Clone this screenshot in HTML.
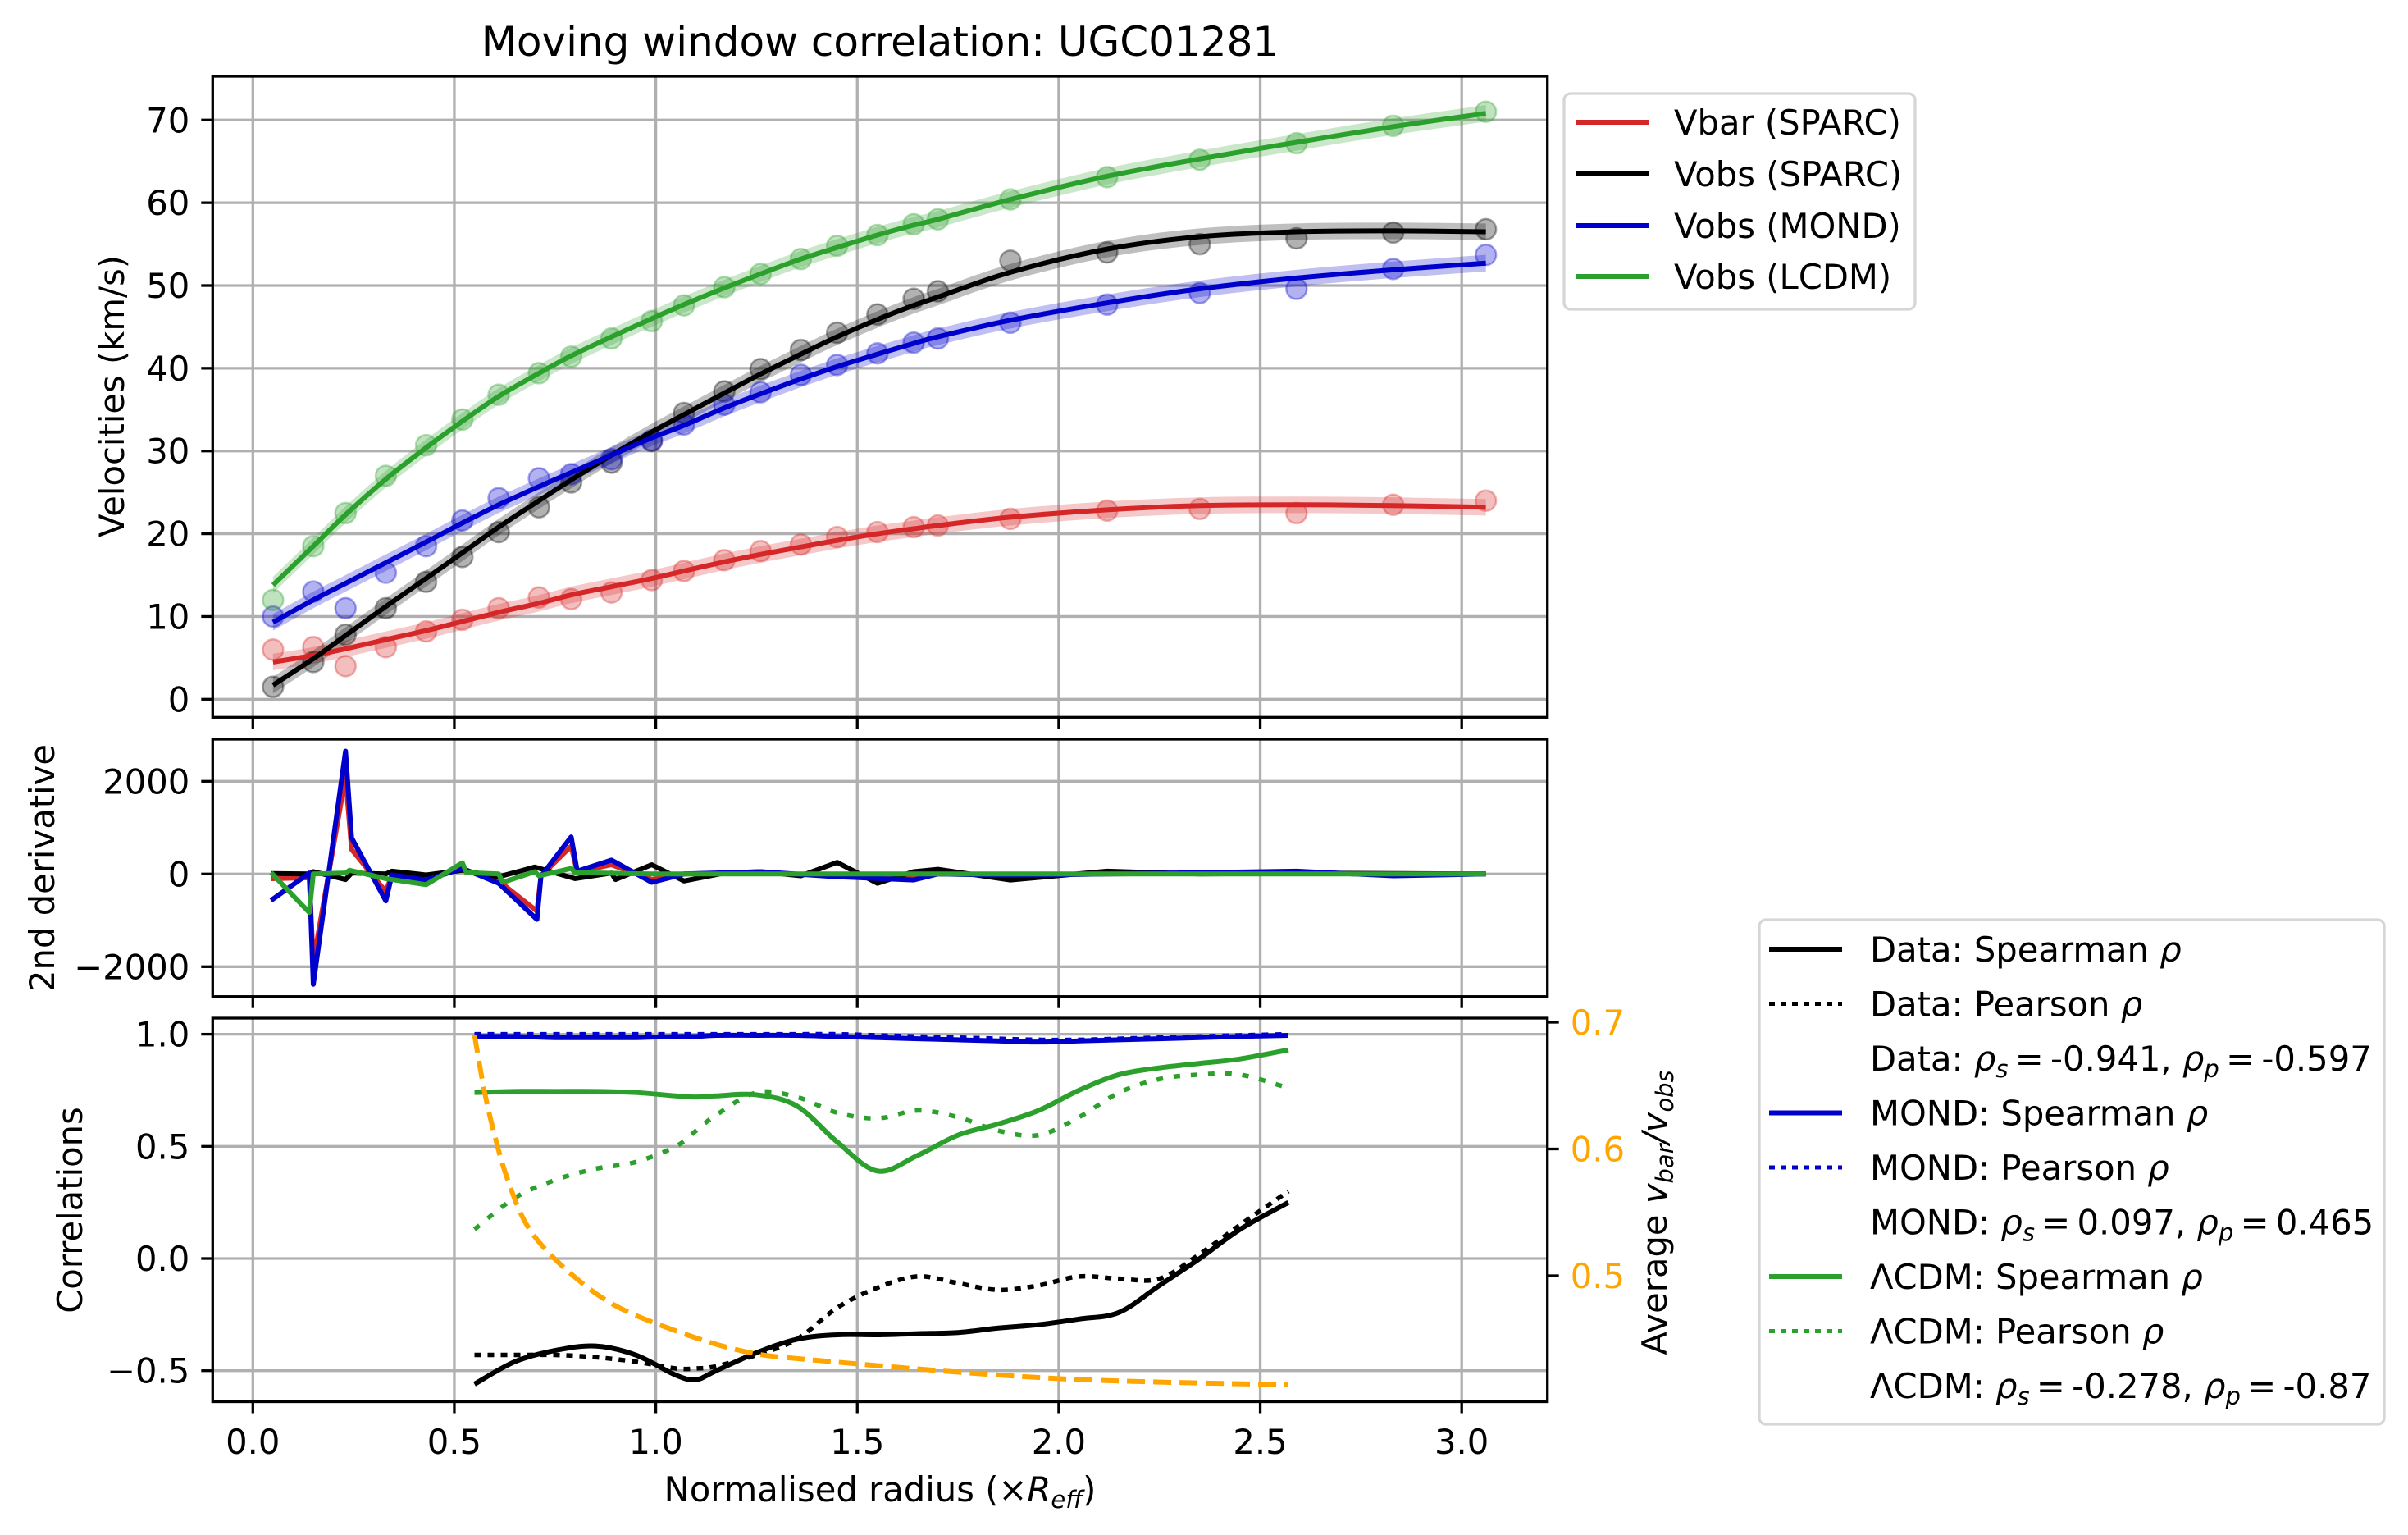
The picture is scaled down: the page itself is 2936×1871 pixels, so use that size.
<!DOCTYPE html>
<html><head><meta charset="utf-8"><style>
html,body{margin:0;padding:0;background:#fff;}
svg{display:block;font-family:"DejaVu Sans","Liberation Sans",sans-serif;}
</style></head><body>
<svg id="chart" xmlns="http://www.w3.org/2000/svg" width="2936" height="1871" viewBox="0 0 2936 1871">
<rect width="2936" height="1871" fill="#fff"/>
<g id="grids"></g>
<g id="marks"></g>
<g id="frames"></g>
<text x="1073" y="68" font-size="50" text-anchor="middle">Moving window correlation: UGC01281</text>
<text x="1073" y="1830" font-size="41.7" text-anchor="middle">Normalised radius (×<tspan font-style="italic">R</tspan><tspan font-style="italic" font-size="29" dy="8">eff</tspan><tspan dy="-8">)</tspan></text>
<text transform="translate(151,483) rotate(-90)" font-size="41.7" text-anchor="middle">Velocities (km/s)</text>
<text transform="translate(66,1058) rotate(-90)" font-size="41.7" text-anchor="middle">2nd derivative</text>
<text transform="translate(100,1475) rotate(-90)" font-size="41.7" text-anchor="middle">Correlations</text>
<text transform="translate(2032,1478) rotate(-90)" font-size="41.7" text-anchor="middle">Average <tspan font-style="italic">v</tspan><tspan font-style="italic" font-size="29" dy="8">bar</tspan><tspan font-style="italic" dy="-8">/v</tspan><tspan font-style="italic" font-size="29" dy="8">obs</tspan></text>
<g id="legend-top"></g>
<g id="legend-bottom"></g>
</svg>
<script>
// ---------- data ----------
const radii = [0.05,0.15,0.23,0.33,0.43,0.52,0.61,0.71,0.79,0.89,0.99,1.07,1.17,1.26,1.36,1.45,1.55,1.64,1.70,1.88,2.12,2.35,2.59,2.83,3.06];
const vbarPts = [6,6.3,4,6.3,8.2,9.6,11,12.3,12.1,12.9,14.4,15.5,16.8,17.9,18.7,19.6,20.2,20.8,21,21.8,22.8,23,22.5,23.5,24];
const vobsPts = [1.5,4.5,7.8,11,14.2,17.2,20.2,23.2,26.2,28.6,31.2,34.6,37.2,39.9,42.2,44.3,46.5,48.4,49.3,53,54,55,55.7,56.4,56.8];
const mondPts = [10,13,11,15.3,18.5,21.6,24.3,26.7,27.2,29,31.3,33.2,35.6,37.1,39.2,40.4,41.8,43.1,43.6,45.5,47.7,49.1,49.6,52,53.7];
const lcdmPts = [12,18.5,22.5,27,30.7,33.8,36.8,39.4,41.4,43.6,45.7,47.6,49.8,51.4,53.2,54.8,56.1,57.4,58,60.4,63.1,65.2,67.2,69.3,71];
const vbarFit = [4.5,5.3,6.1,7.2,8.3,9.4,10.5,11.6,12.6,13.6,14.6,15.5,16.6,17.5,18.4,19.2,20.0,20.6,21.0,22.0,22.9,23.4,23.5,23.4,23.2];
const vobsFit = [1.7,4.9,7.7,11.2,14.6,17.7,20.8,24.0,26.5,29.5,32.3,34.4,37.0,39.3,41.7,43.8,45.9,47.6,48.6,51.6,54.4,55.9,56.5,56.6,56.5];
const mondFit = [9.3,12.0,14.0,16.5,19.0,21.3,23.5,25.7,27.4,29.5,31.6,33.1,35.2,36.9,38.7,40.2,41.7,43.0,43.8,45.8,47.9,49.6,50.9,51.9,52.7];
const lcdmFit = [13.8,18.5,22.3,26.6,30.4,33.6,36.6,39.4,41.5,43.8,46.0,47.7,49.7,51.4,53.2,54.6,56.1,57.3,58.0,60.4,63.2,65.3,67.3,69.2,70.8];

const d2X = [0.045,0.14,0.15,0.23,0.245,0.33,0.345,0.43,0.52,0.61,0.705,0.715,0.79,0.805,0.89,0.99,1.07,1.26,1.45,1.64,1.70,1.88,2.12,2.59,2.83,3.06];
const d2Mond = [-570,20,-2380,2650,780,-580,-20,-130,120,-200,-980,-50,800,60,300,-180,0,50,-60,-130,0,-30,0,60,-40,0];
const d2Vbar = [-100,-80,-1900,2100,530,-380,-20,-80,100,-150,-800,-40,600,40,200,-120,0,30,-40,-80,0,-20,0,40,-20,0];
const d2ObsX = [0.045,0.14,0.15,0.23,0.245,0.33,0.345,0.43,0.52,0.61,0.70,0.80,0.89,0.90,0.99,1.07,1.17,1.26,1.36,1.45,1.55,1.64,1.70,1.88,2.12,2.35,2.59,3.06];
const d2Obs = [10,0,50,-120,20,0,60,-20,80,-60,150,-100,20,-120,200,-150,20,50,-40,250,-200,50,100,-130,60,0,20,0];
const d2LcdmX = [0.045,0.14,0.15,0.23,0.24,0.33,0.43,0.52,0.53,0.61,0.62,0.70,0.71,0.79,0.80,0.99,1.26,1.45,1.88,2.12,2.59,3.06];
const d2Lcdm = [30,-830,0,20,80,-100,-230,240,30,0,-180,50,-40,120,30,0,0,0,0,0,0,0];

const corrX = [0.55,0.65,0.75,0.85,0.95,1.05,1.10,1.15,1.25,1.35,1.45,1.55,1.65,1.75,1.85,1.95,2.05,2.15,2.25,2.35,2.45,2.57];
const dataSpearman = [-0.56,-0.46,-0.41,-0.39,-0.43,-0.52,-0.54,-0.50,-0.42,-0.36,-0.34,-0.34,-0.335,-0.33,-0.31,-0.295,-0.27,-0.24,-0.12,0.0,0.13,0.25];
const dataPearson = [-0.43,-0.43,-0.43,-0.44,-0.46,-0.49,-0.49,-0.48,-0.43,-0.36,-0.22,-0.13,-0.08,-0.11,-0.14,-0.12,-0.08,-0.09,-0.09,0.02,0.15,0.30];
const mondSpearman = [0.99,0.99,0.985,0.985,0.985,0.99,0.99,0.995,0.995,0.995,0.99,0.985,0.98,0.975,0.97,0.965,0.97,0.975,0.98,0.985,0.99,0.995];
const mondPearson = [1.0,1.0,1.0,1.0,1.0,1.0,1.0,1.0,1.0,1.0,1.0,0.995,0.99,0.985,0.98,0.975,0.975,0.98,0.985,0.99,0.995,1.0];
const lcdmSpearman = [0.74,0.745,0.745,0.745,0.74,0.725,0.72,0.725,0.73,0.68,0.52,0.39,0.46,0.55,0.60,0.66,0.75,0.82,0.85,0.87,0.89,0.93];
const lcdmPearson = [0.13,0.27,0.35,0.40,0.43,0.50,0.57,0.64,0.74,0.72,0.65,0.625,0.66,0.63,0.57,0.55,0.63,0.74,0.80,0.82,0.82,0.76];
const ratioX = [0.55,0.575,0.6,0.63,0.68,0.76,0.88,1.02,1.21,1.41,1.99,2.57];
const ratioAvg = [0.69,0.645,0.611,0.578,0.54,0.51,0.48,0.46,0.441,0.433,0.419,0.414];

const xTicks = [0.0,0.5,1.0,1.5,2.0,2.5,3.0];
const xTickLabels = ["0.0","0.5","1.0","1.5","2.0","2.5","3.0"];
const vTicks = [0,10,20,30,40,50,60,70];
const dTicks = [-2000,0,2000];
const dTickLabels = ["\u22122000","0","2000"];
const cTicks = [-0.5,0.0,0.5,1.0];
const cTickLabels = ["\u22120.5","0.0","0.5","1.0"];
const rTicks = [0.5,0.6,0.7];
const rTickLabels = ["0.5","0.6","0.7"];

// ---------- axes ----------
const L = 259.3, R = 1886.7;
const X = v => 308.3 + v * 491.3;
const YV = v => 852.3 - v * 10.086;
const YD = v => 1065.3 - v * 0.0565;
const YC = v => 1534 - v * 273.4;
const YR = v => 1555 - (v - 0.5) * 1545;
const panels = [{top:93,bot:874.3},{top:901,bot:1214.7},{top:1241,bot:1708.5}];
const NS = "http://www.w3.org/2000/svg";
function mk(tag, attrs, parent){const e=document.createElementNS(NS,tag);for(const k in attrs)e.setAttribute(k,attrs[k]);parent.appendChild(e);return e;}
const G = document.getElementById('grids'), M = document.getElementById('marks'), F = document.getElementById('frames');
const GRID = '#b0b0b0';

function smooth(xs, ys, fx, fy){
  const p = xs.map((x,i)=>[fx(x),fy(ys[i])]);
  let d = `M${p[0][0]},${p[0][1]}`;
  for(let i=0;i<p.length-1;i++){
    const p0=p[Math.max(0,i-1)],p1=p[i],p2=p[i+1],p3=p[Math.min(p.length-1,i+2)];
    const c1=[p1[0]+(p2[0]-p0[0])/6,p1[1]+(p2[1]-p0[1])/6];
    const c2=[p2[0]-(p3[0]-p1[0])/6,p2[1]-(p3[1]-p1[1])/6];
    d+=` C${c1[0]},${c1[1]} ${c2[0]},${c2[1]} ${p2[0]},${p2[1]}`;
  }
  return d;
}
function poly(xs, ys, fx, fy){return xs.map((x,i)=>`${fx(x)},${fy(ys[i])}`).join(' ');}

panels.forEach((p,pi)=>{
  xTicks.forEach(t=>{
    const g=mk('line',{x1:X(t),x2:X(t),y1:p.top,y2:p.bot,stroke:GRID,'stroke-width':3.3},G);
    
    
    const tk=mk('line',{x1:X(t),x2:X(t),y1:p.bot,y2:p.bot+14,stroke:'#000','stroke-width':3.3},F);
    
    
  });
});
function yAxis(ticks, labels, fy){
  ticks.forEach((t,i)=>{
    const g=mk('line',{x1:L,x2:R,y1:fy(t),y2:fy(t),stroke:GRID,'stroke-width':3.3},G);
    
    
    const tk=mk('line',{x1:L-14,x2:L,y1:fy(t),y2:fy(t),stroke:'#000','stroke-width':3.3},F);
    
    
    const tx=mk('text',{x:L-28,y:fy(t)+15,'font-size':41.7,'text-anchor':'end'},F);
    tx.textContent=labels[i];
    
    
  });
}
yAxis(vTicks, vTicks.map(String), YV);
yAxis(dTicks, dTickLabels, YD);
yAxis(cTicks, cTickLabels, YC);
xTicks.forEach((t,i)=>{
  const tx=mk('text',{x:X(t),y:1772,'font-size':41.7,'text-anchor':'middle'},F);
  tx.textContent=xTickLabels[i];
  
  
});
rTicks.forEach((t,i)=>{
  const tk=mk('line',{x1:R,x2:R+14,y1:YR(t),y2:YR(t),stroke:'#000','stroke-width':3.3},F);
  
  
  const tx=mk('text',{x:R+28,y:YR(t)+15,'font-size':41.7,fill:'orange'},F);
  tx.textContent=rTickLabels[i];
  
  
});
panels.forEach(p=>{
  const r=mk('rect',{x:L,y:p.top,width:R-L,height:p.bot-p.top,fill:'none',stroke:'#000','stroke-width':3.3},F);
  
  
});

// ---------- velocities ----------
const vSeries = [
  {pts:vbarPts, fit:vbarFit, c:'#d62728', n:'vbar-sparc'},
  {pts:vobsPts, fit:vobsFit, c:'#000000', n:'vobs-sparc'},
  {pts:mondPts, fit:mondFit, c:'#0000cc', n:'vobs-mond'},
  {pts:lcdmPts, fit:lcdmFit, c:'#2ca02c', n:'vobs-lcdm'}
];
vSeries.forEach(s=>{
  const up=s.fit.map(v=>v+1.0), lo=s.fit.map(v=>v-1.0);
  const band = smooth(radii, up, X, YV) + ' L' + smooth(radii.slice().reverse(), lo.slice().reverse(), X, YV).slice(1) + ' Z';
  const b=mk('path',{d:band,fill:s.c,'fill-opacity':0.25,stroke:'none'},M);
  
  
  radii.forEach((r,i)=>{
    const c=mk('circle',{cx:X(r),cy:YV(s.pts[i]),r:12.5,fill:s.c,'fill-opacity':0.3,stroke:s.c,'stroke-opacity':0.35,'stroke-width':2.5},M);
    
    
  });
});
vSeries.forEach(s=>{
  const l=mk('path',{d:smooth(radii,s.fit,X,YV),fill:'none',stroke:s.c,'stroke-width':6},M);
  
  
});

// ---------- 2nd derivative ----------
[[d2X,d2Vbar,'#d62728','vbar'],[d2ObsX,d2Obs,'#000','vobs'],[d2X,d2Mond,'#0000cc','mond'],[d2LcdmX,d2Lcdm,'#2ca02c','lcdm']].forEach(a=>{
  const l=mk('polyline',{points:poly(a[0],a[1],X,YD),fill:'none',stroke:a[2],'stroke-width':6,'stroke-linejoin':'round'},M);
  
  
});

// ---------- correlations ----------
const cSeries = [
  [dataPearson,'#000','8 8','data-pearson-line'],
  [dataSpearman,'#000',null,'data-spearman-line'],
  [mondPearson,'#0000cc','8 8','mond-pearson-line'],
  [mondSpearman,'#0000cc',null,'mond-spearman-line'],
  [lcdmPearson,'#2ca02c','8 13','lcdm-pearson-line'],
  [lcdmSpearman,'#2ca02c',null,'lcdm-spearman-line']
];
cSeries.forEach(s=>{
  const at={d:smooth(corrX,s[0],X,YC),fill:'none',stroke:s[1],'stroke-width':s[2]?5.5:6};
  if(s[2]) at['stroke-dasharray']=s[2];
  const l=mk('path',at,M);
  
  
});
const ol=mk('path',{d:smooth(ratioX,ratioAvg,X,YR),fill:'none',stroke:'orange','stroke-width':6,'stroke-dasharray':'22 10'},M);



// ---------- legends ----------
const LT=document.getElementById('legend-top');
const lb1=mk('rect',{x:1907,y:114,width:428,height:263,rx:8,fill:'#fff','fill-opacity':0.8,stroke:'#d6d6d6','stroke-width':3.3},LT);


[['Vbar (SPARC)','#d62728',149],['Vobs (SPARC)','#000',212],['Vobs (MOND)','#0000cc',275],['Vobs (LCDM)','#2ca02c',337]].forEach(e=>{
  const l=mk('line',{x1:1921,x2:2010,y1:e[2],y2:e[2],stroke:e[1],'stroke-width':6},LT);
  
  
  const t=mk('text',{x:2041,y:e[2]+15,'font-size':41.7},LT);
  t.textContent=e[0];
  
  
});
const LB=document.getElementById('legend-bottom');
const lb2=mk('rect',{x:2145,y:1121,width:762,height:615,rx:8,fill:'#fff','fill-opacity':0.8,stroke:'#d6d6d6','stroke-width':3.3},LB);


const S='<tspan font-style="italic" font-size="29" dy="8">';
const rows=[
  ['#000',null,'Data: Spearman <tspan font-style="italic">ρ</tspan>'],
  ['#000','7 7','Data: Pearson <tspan font-style="italic">ρ</tspan>'],
  [null,null,'Data: <tspan font-style="italic">ρ</tspan>'+S+'s</tspan><tspan dy="-8">\u2009=\u2009-0.941, </tspan><tspan font-style="italic">ρ</tspan>'+S+'p</tspan><tspan dy="-8">\u2009=\u2009-0.597</tspan>'],
  ['#0000cc',null,'MOND: Spearman <tspan font-style="italic">ρ</tspan>'],
  ['#0000cc','7 7','MOND: Pearson <tspan font-style="italic">ρ</tspan>'],
  [null,null,'MOND: <tspan font-style="italic">ρ</tspan>'+S+'s</tspan><tspan dy="-8">\u2009=\u20090.097, </tspan><tspan font-style="italic">ρ</tspan>'+S+'p</tspan><tspan dy="-8">\u2009=\u20090.465</tspan>'],
  ['#2ca02c',null,'ΛCDM: Spearman <tspan font-style="italic">ρ</tspan>'],
  ['#2ca02c','7 7','ΛCDM: Pearson <tspan font-style="italic">ρ</tspan>'],
  [null,null,'ΛCDM: <tspan font-style="italic">ρ</tspan>'+S+'s</tspan><tspan dy="-8">\u2009=\u2009-0.278, </tspan><tspan font-style="italic">ρ</tspan>'+S+'p</tspan><tspan dy="-8">\u2009=\u2009-0.87</tspan>']
];
rows.forEach((r,i)=>{
  const y=1157+i*66.5;
  if(r[0]){
    const at={x1:2157,x2:2246,y1:y,y2:y,stroke:r[0],'stroke-width':r[1]?5:6};
    if(r[1]) at['stroke-dasharray']=r[1];
    const l=mk('line',at,LB);
    
    
  }
  const t=mk('text',{x:2280,y:y+15,'font-size':41.7},LB);
  t.innerHTML=r[2];
  
  
});
</script>
</body></html>
